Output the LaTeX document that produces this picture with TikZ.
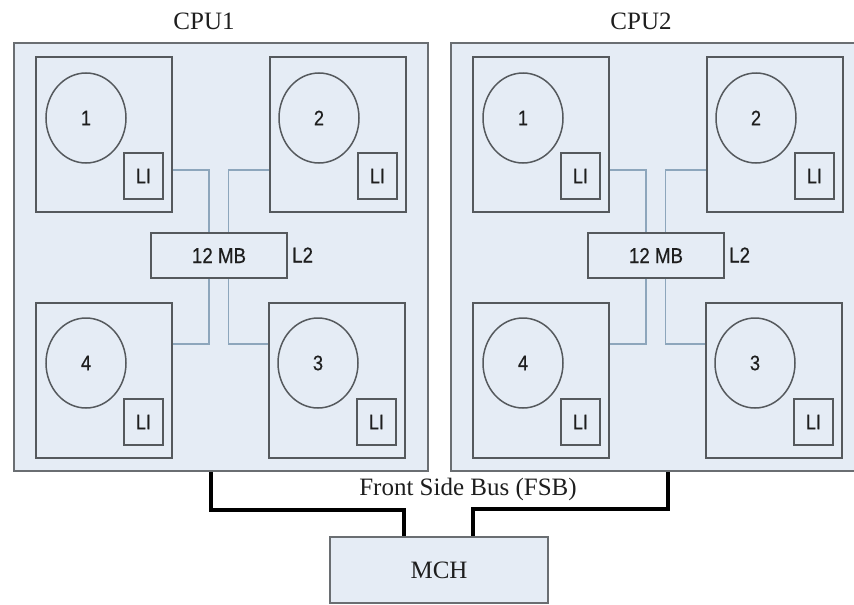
\documentclass[tikz,border=0pt]{standalone}
\usepackage{fontspec}
\setmainfont{Liberation Serif}
\newfontfamily\arialf[FakeStretch=0.87,FakeBold=0.4]{Liberation Sans}
\usetikzlibrary{shapes.geometric}
\definecolor{boxfill}{HTML}{E5ECF5}
\definecolor{outerline}{HTML}{6A6E72}
\definecolor{coreline}{HTML}{55595D}
\definecolor{linkline}{HTML}{8DA6BC}
\definecolor{txt}{HTML}{1E1E1E}
\tikzset{
  cpubox/.style={draw=outerline, line width=2pt, fill=boxfill, anchor=north west, minimum width=414pt, minimum height=428pt, inner sep=0pt},
  corebox/.style={draw=coreline, line width=1.8pt, fill=boxfill, anchor=north west, minimum width=136pt, minimum height=155pt, inner sep=0pt},
  corecirc/.style={ellipse, draw=coreline, line width=1.5pt, minimum width=80pt, minimum height=90pt, inner sep=0pt, font=\arialf\fontsize{21}{24}\selectfont, text=txt},
  l1box/.style={draw=coreline, line width=1.6pt, minimum width=39pt, minimum height=46pt, inner sep=0pt, font=\arialf\fontsize{21}{24}\selectfont, text=txt},
  mbbox/.style={draw=coreline, line width=1.8pt, fill=boxfill, minimum width=136pt, minimum height=45pt, inner sep=0pt, font=\arialf\fontsize{21.5}{24}\selectfont, text=txt},
  sanslabel/.style={font=\arialf\fontsize{21.5}{24}\selectfont, text=txt, inner sep=0pt},
  seriflabel/.style={font=\fontsize{25}{30}\selectfont, text=txt, inner sep=0pt},
  link/.style={draw=linkline, line width=1.5pt},
  bus/.style={draw=black, line width=3.5pt},
  mchbox/.style={draw=outerline, line width=2pt, fill=boxfill, minimum width=218pt, minimum height=66pt, inner sep=0pt, font=\fontsize{25}{30}\selectfont, text=txt}
}
\begin{document}
\begin{tikzpicture}[x=1pt,y=-1pt]
\useasboundingbox (0,0) rectangle (854,605);
\clip (0,0) rectangle (854,605);
\fill[white] (0,0) rectangle (854,605);
\foreach \p/\dx/\name in {A/0/CPU1, B/437/CPU2}{
\begin{scope}[xshift=\dx pt]
  \node[seriflabel] (lab\p) at (204,21) {\name};
  \node[cpubox] (cpu\p) at (13,42) {};
  % cores
  \node[corebox] (core1\p) at (35,56) {};
  \node[corebox] (core2\p) at (269,56) {};
  \node[corebox] (core4\p) at (35,302) {};
  \node[corebox] (core3\p) at (268,302) {};
  % circles
  \node[corecirc] (circ1\p) at (86,118) {1};
  \node[corecirc] (circ2\p) at (319,118) {2};
  \node[corecirc] (circ4\p) at (86,363) {4};
  \node[corecirc] (circ3\p) at (318,363) {3};
  % L1 boxes
  \node[l1box] (li1\p) at (143.5,176) {LI};
  \node[l1box] (li2\p) at (377.5,176) {LI};
  \node[l1box] (li4\p) at (143.5,422) {LI};
  \node[l1box] (li3\p) at (376.5,422) {LI};
  % L2 cache
  \node[mbbox] (mb\p) at (219,255.5) {12 MB};
  \node[sanslabel, anchor=west] (l2\p) at (292,255) {L2};
  % links
  \draw[link] ([yshift=43pt]core1\p.south east) -| ([xshift=-10pt]mb\p.north);
  \draw[link] ([yshift=43pt]core2\p.south west) -| ([xshift=9.5pt]mb\p.north);
  \draw[link] ([xshift=-10pt]mb\p.south) |- ([yshift=-42pt]core4\p.north east);
  \draw[link] ([xshift=9.5pt]mb\p.south) |- ([yshift=-42pt]core3\p.north west);
\end{scope}
}
\node[mchbox] (mch) at (439,570) {MCH};
\node[seriflabel] (fsb) at (468,489) {Front Side Bus (FSB)};
\draw[bus] ([xshift=-10pt]cpuA.south) -- ++(0,38) -| ([xshift=-35pt]mch.north);
\draw[bus] ([xshift=10pt]cpuB.south) -- ++(0,37) -| ([xshift=34pt]mch.north);
\end{tikzpicture}
\end{document}
